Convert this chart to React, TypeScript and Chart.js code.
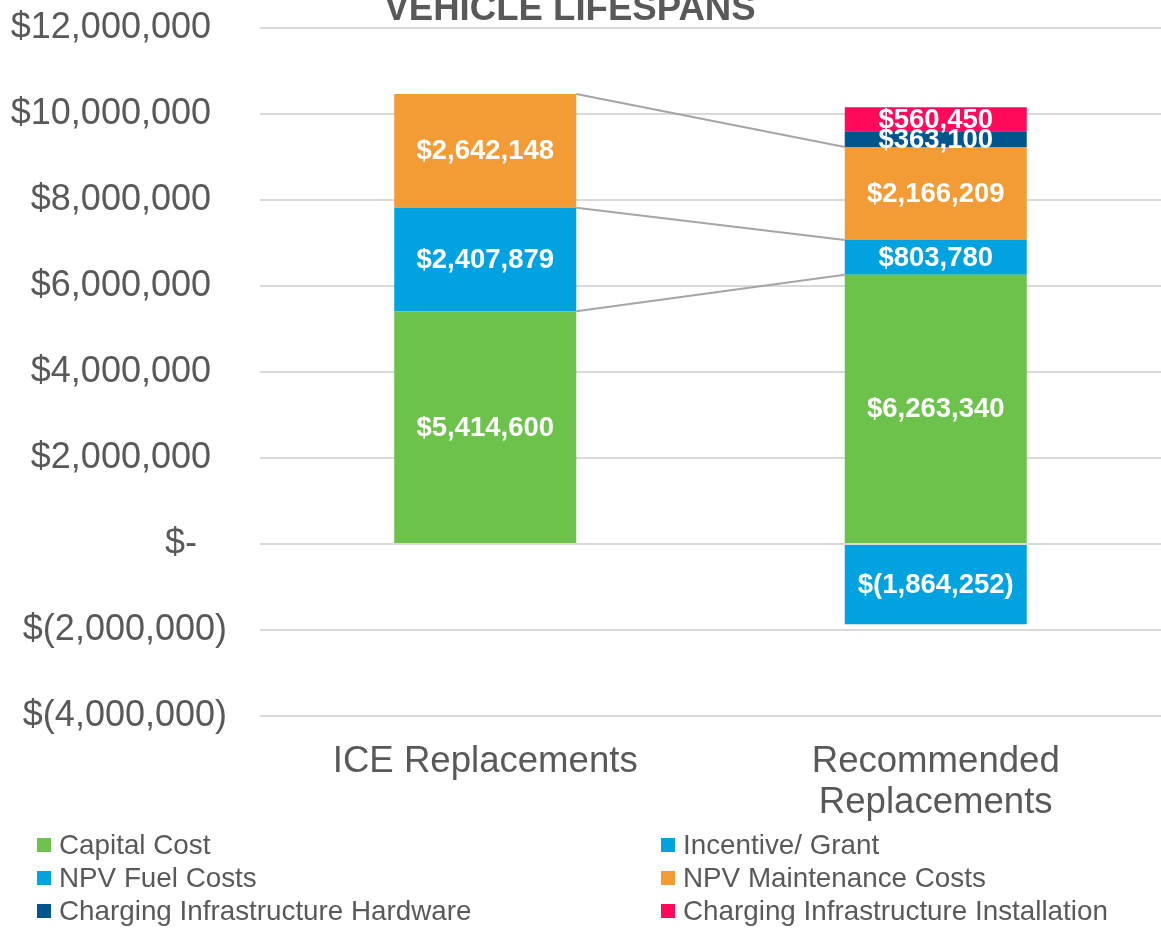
import React, { useEffect, useRef } from "react";
import { Chart, registerables } from "chart.js";

Chart.register(...registerables);

const categories: (string | string[])[] = ["ICE Replacements", ["Recommended", "Replacements"]];
const seriesNames = [
  "Capital Cost",
  "Incentive/ Grant",
  "NPV Fuel Costs",
  "NPV Maintenance Costs",
  "Charging Infrastructure Hardware",
  "Charging Infrastructure Installation",
];
const capitalCost = [5414600, 6263340];
const incentiveGrant = [null, -1864252];
const npvFuelCosts = [2407879, 803780];
const npvMaintenanceCosts = [2642148, 2166209];
const chargingHardware = [null, 363100];
const chargingInstallation = [null, 560450];
const seriesColors = ["#6cc24a", "#00a3e0", "#00a3e0", "#f39b35", "#00558c", "#ff0a5a"];
const yMin = -4000000;
const yMax = 12000000;
const yStep = 2000000;
const titleText = "VEHICLE LIFESPANS";

const FONT = '"Liberation Sans", Arial, Helvetica, sans-serif';
const TEXT_COLOR = "#595959";

function fmtMoney(v: number): string {
  const s = Math.abs(v).toLocaleString("en-US");
  return v < 0 ? `$(${s})` : `$${s}`;
}

function fmtTick(v: number): string {
  if (v === 0) return "$-   ";
  if (v < 0) return fmtMoney(v);
  return fmtMoney(v) + " \u2006";
}

const seriesLinesPlugin = {
  id: "seriesLines",
  afterDatasetsDraw(chart: any) {
    const ctx = chart.ctx;
    ctx.save();
    ctx.strokeStyle = "#a5a5a5";
    ctx.lineWidth = 2;
    chart.data.datasets.forEach((ds: any, i: number) => {
      const a = ds.data[0];
      const b = ds.data[1];
      if (a == null || b == null || a <= 0 || b <= 0) return;
      const meta = chart.getDatasetMeta(i);
      const e0 = meta.data[0];
      const e1 = meta.data[1];
      ctx.beginPath();
      ctx.moveTo(e0.x + e0.width / 2, e0.y);
      ctx.lineTo(e1.x - e1.width / 2, e1.y);
      ctx.stroke();
    });
    ctx.restore();
  },
};

const dataLabelsPlugin = {
  id: "dataLabels",
  afterDatasetsDraw(chart: any) {
    const ctx = chart.ctx;
    ctx.save();
    ctx.font = `bold 27.5px ${FONT}`;
    ctx.fillStyle = "#ffffff";
    ctx.textAlign = "center";
    ctx.textBaseline = "middle";
    chart.data.datasets.forEach((ds: any, i: number) => {
      const meta = chart.getDatasetMeta(i);
      meta.data.forEach((el: any, j: number) => {
        const v = ds.data[j];
        if (v == null) return;
        ctx.fillText(fmtMoney(v), el.x, (el.y + el.base) / 2 + 1);
      });
    });
    ctx.restore();
  },
};

const titlePlugin = {
  id: "cutTitle",
  afterDraw(chart: any) {
    const ctx = chart.ctx;
    ctx.save();
    ctx.font = `bold 36.6px ${FONT}`;
    ctx.fillStyle = TEXT_COLOR;
    ctx.textAlign = "center";
    ctx.textBaseline = "alphabetic";
    ctx.fillText(titleText, 570, 20);
    ctx.restore();
  },
};

export default function App() {
  const canvasRef = useRef<HTMLCanvasElement | null>(null);

  useEffect(() => {
    if (!canvasRef.current) return;
    const series = [capitalCost, incentiveGrant, npvFuelCosts, npvMaintenanceCosts, chargingHardware, chargingInstallation];
    const chart = new Chart(canvasRef.current, {
      type: "bar",
      data: {
        labels: categories as any,
        datasets: series.map((d, i) => ({
          label: seriesNames[i],
          data: d as any,
          backgroundColor: seriesColors[i],
          borderWidth: 0,
          barPercentage: 0.404,
          categoryPercentage: 1,
        })),
      },
      options: {
        responsive: false,
        animation: false,
        layout: { padding: { top: 28, left: 0, right: 0, bottom: 0 } },
        plugins: {
          legend: { display: false },
          tooltip: { enabled: false },
          title: { display: false },
        },
        scales: {
          x: {
            stacked: true,
            grid: { display: false, drawTicks: false },
            border: { display: false },
            ticks: {
              color: TEXT_COLOR,
              font: { family: FONT, size: 36.6, lineHeight: 1.13 },
              padding: 25,
              maxRotation: 0,
              autoSkip: false,
            },
            afterFit(scale: any) {
              scale.height = 212;
              scale.paddingLeft = 0;
              scale.paddingRight = 0;
            },
          },
          y: {
            stacked: true,
            min: yMin,
            max: yMax,
            grid: { color: "#d9d9d9", lineWidth: 2, drawTicks: false },
            border: { display: false },
            ticks: {
              stepSize: yStep,
              color: TEXT_COLOR,
              font: { family: FONT, size: 36 },
              padding: 33,
              callback: (v: any) => fmtTick(Number(v)),
            },
            afterFit(scale: any) {
              scale.width = 260;
              scale.paddingTop = 0;
              scale.paddingBottom = 0;
            },
          },
        },
      },
      plugins: [seriesLinesPlugin, dataLabelsPlugin, titlePlugin],
    });
    return () => chart.destroy();
  }, []);

  const legendRows = [
    [0, 1],
    [2, 3],
    [4, 5],
  ];
  const rowCenters = [845, 878, 911];
  const colBoxLeft = [37, 661];

  return (
    <div style={{ position: "absolute", left: 0, top: 0, width: 1161, height: 928, overflow: "hidden", background: "#fff" }}>
      <canvas ref={canvasRef} width={1161} height={928} style={{ display: "block" }} />
      {legendRows.map((row, r) =>
        row.map((idx, c) => (
          <div
            key={idx}
            style={{
              position: "absolute",
              left: colBoxLeft[c],
              top: rowCenters[r] - 17,
              height: 34,
              display: "flex",
              alignItems: "center",
              fontFamily: FONT,
              fontSize: 27.8,
              color: TEXT_COLOR,
              whiteSpace: "nowrap",
            }}
          >
            <span style={{ display: "inline-block", width: 14, height: 14, background: seriesColors[idx], marginRight: 8 }} />
            <span>{seriesNames[idx]}</span>
          </div>
        ))
      )}
    </div>
  );
}
